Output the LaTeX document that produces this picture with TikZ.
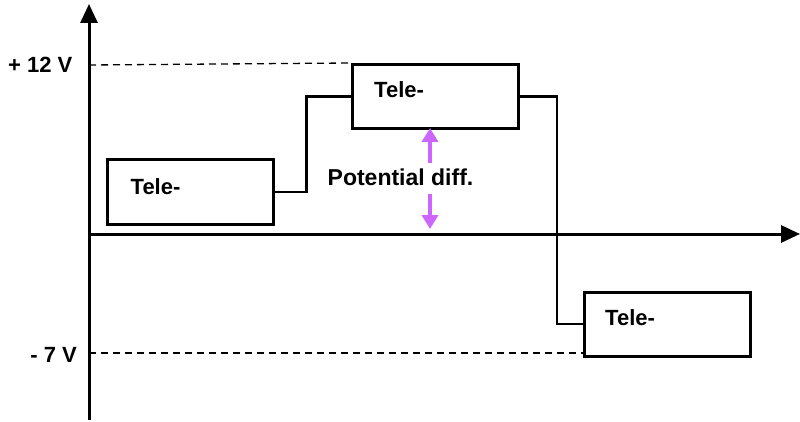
\documentclass[tikz,border=0pt]{standalone}
\usepackage{fontspec}
\setmainfont{Liberation Sans}
\usetikzlibrary{arrows.meta}
\definecolor{violetarrow}{RGB}{204,102,255}
\begin{document}
\begin{tikzpicture}[x=1pt,y=-1pt,
  box/.style={draw,line width=3pt,minimum width=166pt,minimum height=64pt,inner sep=0pt},
  lbl/.style={font=\bfseries\fontsize{22}{24}\selectfont,inner sep=0pt},
  axis/.style={line width=3pt,-{Triangle[width=17pt,length=19pt]}},
  wire/.style={line width=2.5pt},
  guide/.style={dashed,line width=1.3pt,dash pattern=on 7pt off 5pt},
  pot/.style={violetarrow,line width=4.5pt,-{Triangle[width=16pt,length=14pt]}}]
\useasboundingbox (0,0) rectangle (800,422);
\coordinate (ybot) at (89,420);
\coordinate (ytop) at (89,4);
\coordinate (xl) at (89,234);
\coordinate (xr) at (800,234);
\draw[axis] (ybot) -- (ytop);
\draw[axis] (xl) -- (xr);
\node[box] (b1) at (190,192) {};
\node[box] (b2) at (435.5,96.5) {};
\node[box] (b3) at (667.5,324) {};
\node[lbl,anchor=west] (t1) at ([xshift=25pt,yshift=5pt]b1.west) {Tele-};
\node[lbl,anchor=west] (t2) at ([xshift=23pt,yshift=7pt]b2.west) {Tele-};
\node[lbl,anchor=west] (t3) at ([xshift=22pt,yshift=6pt]b3.west) {Tele-};
\draw[wire] (b1.east) -- ++(32,0) |- (b2.west);
\draw[wire] (b2.east) -- ++(37,0) |- (b3.west);
\coordinate (p12) at (89,65);
\coordinate (m7) at (89,353);
\draw[guide] (p12) -- (b2.north west);
\draw[guide] (m7) -- (m7 -| b3.west);
\node[lbl,anchor=east] (l12) at (72.5,64.5) {+ 12 V};
\node[lbl,anchor=east] (l7) at (77,355) {- 7 V};
\node[lbl,font=\bfseries\fontsize{23}{26}\selectfont] (pd) at (400.5,177) {Potential diff.};
\coordinate (pu) at (430,163);
\coordinate (pdn) at (430,194);
\draw[pot] (pu) -- (430,128);
\draw[pot] (pdn) -- (430,229);
\end{tikzpicture}
\end{document}
